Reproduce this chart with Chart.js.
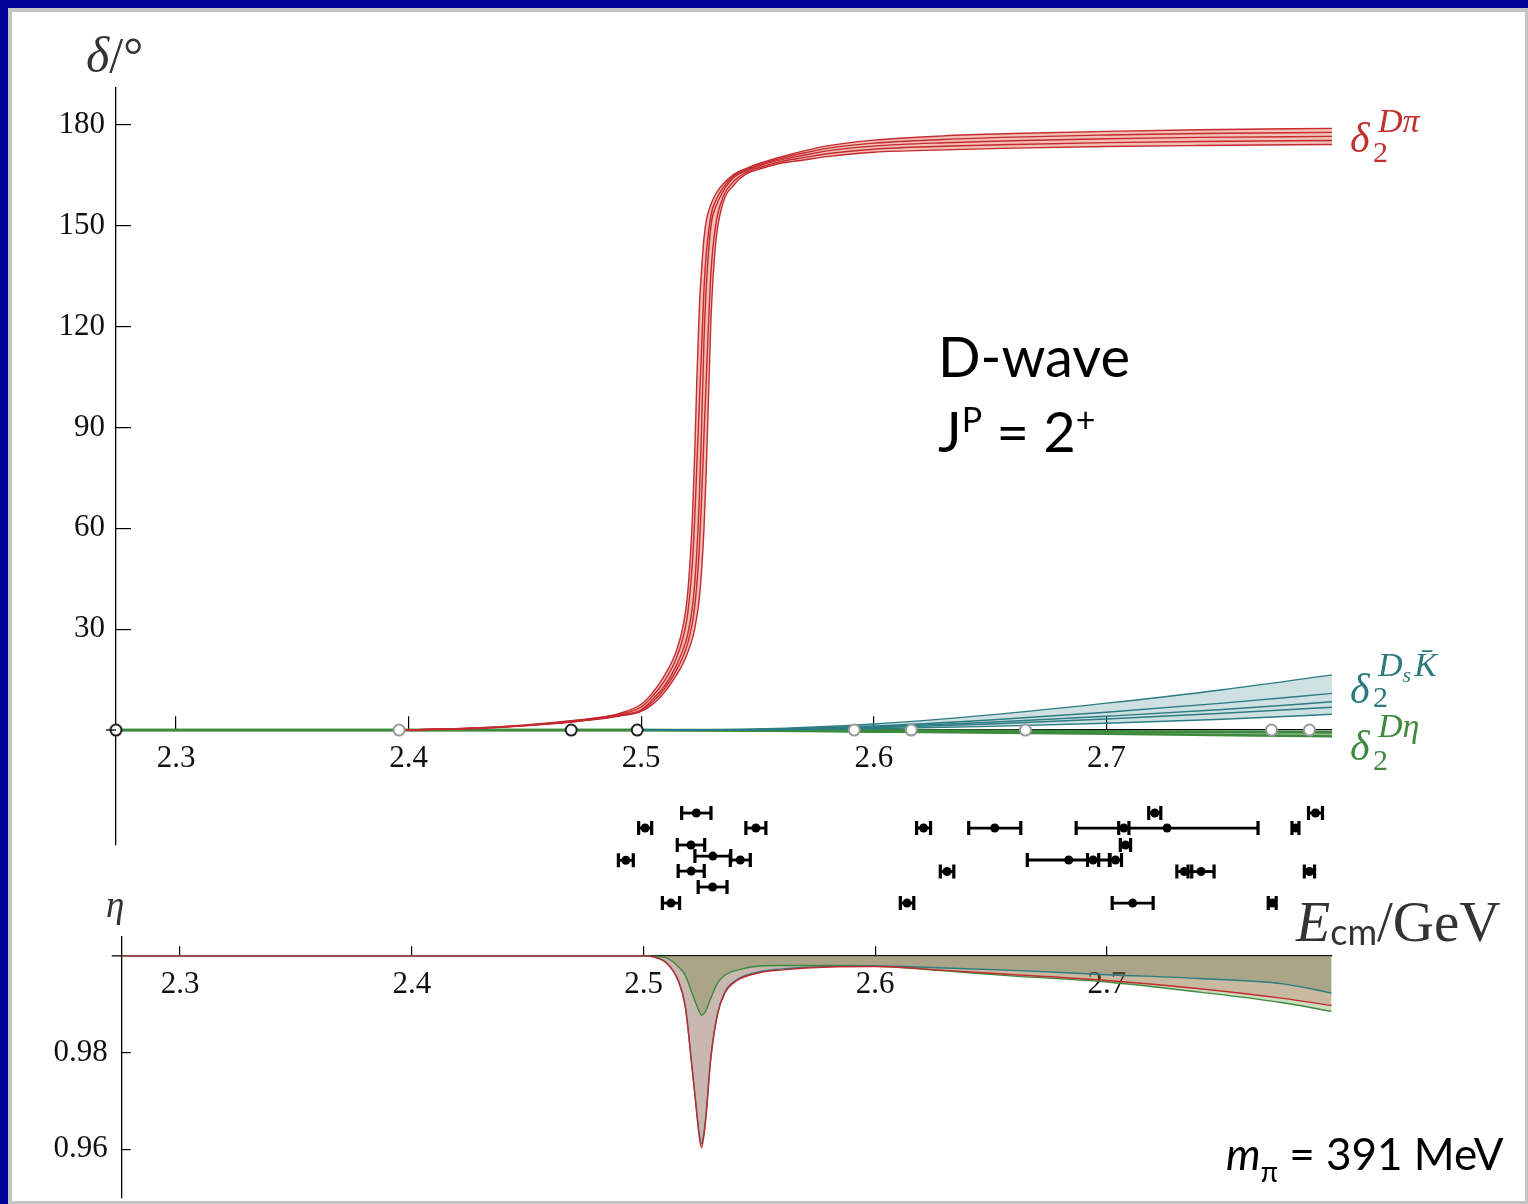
<!DOCTYPE html>
<html>
<head>
<meta charset="utf-8">
<script src="https://cdn.jsdelivr.net/npm/chart.js@4.4.1/dist/chart.umd.min.js"></script>
<style>
  html, body { margin: 0; padding: 0; }
  body { width: 1528px; height: 1204px; background: #00009a; position: relative; overflow: hidden; }
  #frame { position: absolute; left: 8px; top: 8px; width: 1520px; height: 1196px; background: #c4c4c4; }
  #paper { position: absolute; left: 12px; top: 12px; width: 1513px; height: 1189px; background: #fff; }
  canvas { position: absolute; left: 0; }
  .t { position: absolute; white-space: nowrap; line-height: 1; }
  .serif { font-family: "Liberation Serif", "DejaVu Serif", serif; }
  .sans { font-family: Lato, "Open Sans", sans-serif; }
  .it { font-style: italic; }
</style>
</head>
<body>
<div id="frame"></div>
<div id="paper"></div>
<canvas id="chart-phase" width="1528" height="930" style="top:0"></canvas>
<canvas id="chart-eta" width="1528" height="299" style="top:905px"></canvas>

<!-- axis titles -->
<div class="t serif" style="left:86px; top:30px; font-size:50px; color:#333"><span class="it">δ</span>/°</div>
<div class="t serif it" style="left:106px; top:886px; font-size:37px; color:#333">η</div>
<div class="t" style="left:1296px; top:893px; color:#333">
  <span class="serif it" style="font-size:56px">E</span><span class="sans" style="font-size:36px; position:relative; top:4px">cm</span><span class="serif" style="font-size:57px">/GeV</span>
</div>

<!-- curve labels -->
<div class="t serif it" style="left:1350px; top:117px; font-size:42px; color:#c0302c">δ</div>
<div class="t serif" style="left:1373px; top:137px; font-size:30px; color:#c0302c">2</div>
<div class="t serif it" style="left:1378px; top:104px; font-size:34px; color:#c0302c">Dπ</div>

<div class="t serif it" style="left:1350px; top:668px; font-size:42px; color:#2b7a7e">δ</div>
<div class="t serif" style="left:1373px; top:682px; font-size:30px; color:#2b7a7e">2</div>
<div class="t serif it" style="left:1378px; top:648px; font-size:34px; color:#2b7a7e">D<span style="font-size:22px; position:relative; top:6px; margin-right:3px">s</span>K̄</div>

<div class="t serif it" style="left:1350px; top:725px; font-size:42px; color:#3f8a3f">δ</div>
<div class="t serif" style="left:1373px; top:745px; font-size:30px; color:#3f8a3f">2</div>
<div class="t serif it" style="left:1378px; top:709px; font-size:34px; color:#3f8a3f">Dη</div>

<!-- annotations -->
<div class="t sans" style="left:938px; top:328px; font-size:56px; color:#000">D-wave</div>
<div class="t sans" style="left:938px; top:403px; font-size:56px; color:#000">J<span style="font-size:34px; position:relative; top:-20px">P</span> = 2<span style="font-size:34px; position:relative; top:-20px">+</span></div>
<div class="t sans" style="left:1226px; top:1131px; font-size:44px; color:#000"><span class="it">m</span><span style="font-size:28px; position:relative; top:12px">π</span> = 391 MeV</div>

<script>
// ---- tick labels ----
const energyTicks = [2.3, 2.4, 2.5, 2.6, 2.7];
const phaseTicks = [30, 60, 90, 120, 150, 180];
const etaTicks = [0.96, 0.98];

// ---- delta_2^{D pi} band (degrees) ----
const dPiE = [2.396, 2.42, 2.44, 2.46, 2.48, 2.49, 2.50, 2.505, 2.51, 2.515, 2.518, 2.520, 2.522, 2.523,
  2.524, 2.525, 2.526, 2.527, 2.528, 2.530, 2.532, 2.535, 2.540, 2.545, 2.55, 2.56, 2.57, 2.58,
  2.60, 2.63, 2.66, 2.70, 2.74, 2.797];
const dPi1 = [0, 0.42, 1.03, 2.08, 3.59, 4.82, 7.66, 11.2, 16.2, 23.3, 30.9, 40.7, 63, 82.2,
  106, 125.6, 137.4, 146.4, 151.6, 156.4, 159.4, 162.3, 165.4, 167, 168.4, 170.5, 172.3, 173.8,
  175.5, 176.75, 177.45, 178.1, 178.6, 179.0];
const dPi2 = [0, 0.385, 0.965, 1.99, 3.445, 4.61, 6.83, 10.2, 14.65, 21.15, 27.45, 34.6, 49.75, 62.85,
  80, 97.3, 114.2, 131.2, 141.8, 153.2, 157.45, 161.15, 164.95, 166.65, 168.05, 170.05, 171.65, 173.05,
  174.6, 175.7, 176.4, 177.0, 177.45, 177.8];
const dPi3 = [0, 0.35, 0.9, 1.9, 3.3, 4.4, 6, 9.2, 13.1, 19, 24, 28.5, 36.5, 43.5,
  54, 69, 91, 116, 132, 150, 155.5, 160, 164.5, 166.3, 167.7, 169.6, 171, 172.3,
  173.7, 174.7, 175.3, 175.9, 176.3, 176.6];
const dPi4 = [0, 0.32, 0.865, 1.835, 3.21, 4.255, 5.79, 8.43, 12.15, 17.6, 21.9, 25.8, 31.85, 36.8,
  44.05, 54.15, 69.35, 88, 104.9, 136.2, 150.05, 158.2, 163.4, 165.85, 167.2, 169.1, 170.3, 171.45,
  172.8, 173.65, 174.2, 174.75, 175.1, 175.4];
const dPi5 = [0, 0.29, 0.83, 1.77, 3.12, 4.11, 5.58, 7.66, 11.2, 16.2, 19.8, 23.1, 27.2, 30.1,
  34.1, 39.3, 47.7, 60, 77.8, 122.4, 144.6, 156.4, 162.3, 165.4, 166.7, 168.6, 169.6, 170.6,
  171.9, 172.6, 173.1, 173.6, 173.9, 174.2];

// ---- delta_2^{Ds Kbar} band ----
const dsKE = [2.50, 2.55, 2.60, 2.65, 2.70, 2.75, 2.797];
const dsK1 = [0, 0.3, 1.8, 4.5, 8.0, 12.0, 16.4];
const dsK2 = [0, 0.2, 1.2, 3.0, 5.3, 8.0, 10.9];
const dsK3 = [0, 0.15, 0.9, 2.3, 4.1, 6.1, 8.4];
const dsK4 = [0, 0.1, 0.7, 1.8, 3.3, 5.0, 6.8];
const dsK5 = [0, 0.05, 0.4, 1.1, 2.0, 3.2, 4.7];

// ---- delta_2^{D eta} band ----
const dEtaE = [2.2742, 2.50, 2.60, 2.70, 2.797];
const dEtaHi = [0, 0, -0.1, -0.4, -0.6];
const dEtaLo = [0, 0, -0.5, -1.1, -1.9];

// ---- threshold markers on the axis ----
const thresholdE = [2.2742, 2.3959, 2.4699, 2.4983, 2.5916, 2.6161, 2.6652, 2.7710, 2.7873];
const thresholdDark = [true, false, true, true, false, false, false, false, false];

// ---- finite-volume levels (E, error, row) ----
const levelE   = [2.5237, 2.5017, 2.5493, 2.5214, 2.5308, 2.5426, 2.4934, 2.5215, 2.5307, 2.5128,
  2.6214, 2.6520, 2.7261, 2.7075, 2.7208, 2.7082, 2.7813, 2.7899, 2.6838, 2.6943,
  2.7039, 2.6315, 2.7335, 2.7407, 2.7873, 2.6143, 2.7113, 2.7713];
const levelErr = [0.0063, 0.0028, 0.0043, 0.0059, 0.0077, 0.0043, 0.0032, 0.0056, 0.0062, 0.0037,
  0.0030, 0.0112, 0.0391, 0.0022, 0.0026, 0.0022, 0.0015, 0.0030, 0.0178, 0.0024,
  0.0026, 0.0029, 0.0032, 0.0056, 0.0022, 0.0029, 0.0088, 0.0017];
const levelRow = [0, 1, 1, 2.13, 2.87, 3.13, 3.15, 3.87, 4.93, 6,
  1, 1, 1, 1, 0, 2.13, 1, 0, 3.13, 3.13,
  3.13, 3.9, 3.9, 3.9, 3.9, 6, 6, 6];

// ---- inelasticity eta ----
const etaE = [2.2748, 2.50, 2.505, 2.51, 2.515, 2.518, 2.521, 2.523, 2.524, 2.525, 2.526, 2.527, 2.529,
  2.532, 2.535, 2.54, 2.55, 2.56, 2.58, 2.60, 2.63, 2.66, 2.70, 2.74, 2.776, 2.797];
const etaRed = [1, 1, 0.9997, 0.9985, 0.9948, 0.9895, 0.9765, 0.9672, 0.9628, 0.9603, 0.9626, 0.9668, 0.9785,
  0.9880, 0.9922, 0.9948, 0.9965, 0.9971, 0.9977, 0.9978, 0.9970, 0.9961, 0.9949, 0.9932, 0.9912, 0.9897];
const etaTeal = [1, 1, 0.9997, 0.9985, 0.9949, 0.9897, 0.9768, 0.9677, 0.9634, 0.9611, 0.9632, 0.9673, 0.9789,
  0.9882, 0.9924, 0.9950, 0.9967, 0.9973, 0.9978, 0.9979, 0.9975, 0.9970, 0.9961, 0.9953, 0.9942, 0.9923];
const etaGreen = [1, 1, 0.9999, 0.9996, 0.9978, 0.9960, 0.9922, 0.9897, 0.9885, 0.9877, 0.9880, 0.9887, 0.9912,
  0.9944, 0.9960, 0.9970, 0.9979, 0.9980, 0.9980, 0.9979, 0.9969, 0.9958, 0.9946, 0.9925, 0.9903, 0.9885];

const RED = "#c42a2f", TEAL = "#2b7c83", GREEN = "#3d8a3d";
const tickFont = { family: "Liberation Serif", size: 31 };

function pts(xs, ys) {
  return xs.map((x, i) => ({ x: x, y: ys[i] }));
}

function curve(xs, ys, color, width, extra) {
  return Object.assign({
    type: "line",
    data: pts(xs, ys),
    borderColor: color,
    borderWidth: width,
    pointRadius: 0,
    cubicInterpolationMode: "monotone",
    fill: false,
    order: 2,
  }, extra || {});
}

// levels with horizontal error bars (they sit below the plot area)
const levelBars = {
  id: "levelBars",
  afterDatasetsDraw(chart) {
    if (!chart.scales.lev) return;
    const ctx = chart.ctx, x = chart.scales.x, lev = chart.scales.lev;
    ctx.save();
    ctx.strokeStyle = "#000";
    ctx.fillStyle = "#000";
    levelE.forEach((e, i) => {
      const y = lev.getPixelForValue(levelRow[i]);
      const x0 = x.getPixelForValue(e - levelErr[i]);
      const x1 = x.getPixelForValue(e + levelErr[i]);
      ctx.lineWidth = 2.8;
      ctx.beginPath();
      ctx.moveTo(x0, y); ctx.lineTo(x1, y);
      ctx.stroke();
      ctx.lineWidth = 3.2;
      ctx.beginPath();
      ctx.moveTo(x0, y - 7); ctx.lineTo(x0, y + 7);
      ctx.moveTo(x1, y - 7); ctx.lineTo(x1, y + 7);
      ctx.stroke();
      ctx.beginPath();
      ctx.arc(x.getPixelForValue(e), y, 4.5, 0, Math.PI * 2);
      ctx.fill();
    });
    ctx.restore();
  },
};

// the horizontal axis pokes a little past the vertical one, Mathematica style
const axisStub = {
  id: "axisStub",
  afterDraw(chart, args, opts) {
    const ctx = chart.ctx, y = chart.scales.y.getPixelForValue(opts.at);
    ctx.save();
    ctx.strokeStyle = "#000";
    ctx.lineWidth = 1.3;
    ctx.beginPath();
    ctx.moveTo(chart.chartArea.left - 10, y);
    ctx.lineTo(chart.chartArea.left, y);
    ctx.stroke();
    ctx.restore();
  },
};

function xAxis(min, max, atY, tickLen, pad) {
  return {
    type: "linear",
    min: min,
    max: max,
    position: { y: atY },
    afterBuildTicks: s => { s.ticks = energyTicks.map(v => ({ value: v })); },
    ticks: { font: tickFont, color: "#111", padding: pad, maxRotation: 0, autoSkip: false,
      callback: v => v.toFixed(1) },
    grid: { drawOnChartArea: false, tickLength: tickLen, color: "#000", lineWidth: 1.2 },
    border: { color: "#000", width: 1.3 },
  };
}

function yAxis(min, max, ticks, digits, width, tickLen, pad) {
  return {
    type: "linear",
    min: min,
    max: max,
    position: "left",
    afterFit: s => { s.width = width; s.paddingTop = 0; s.paddingBottom = 0; },
    afterBuildTicks: s => { s.ticks = ticks.map(v => ({ value: v })); },
    ticks: { font: tickFont, color: "#111", padding: pad, callback: v => v.toFixed(digits) },
    grid: { drawOnChartArea: false, tickLength: tickLen, color: "#000", lineWidth: 1.2 },
    border: { color: "#000", width: 1.3 },
  };
}

function baseOptions(axisAt) {
  return {
    responsive: false,
    animation: false,
    events: [],
    plugins: {
      legend: { display: false },
      tooltip: { enabled: false },
      filler: { drawTime: "beforeDatasetsDraw" },
      axisStub: { at: axisAt },
    },
  };
}

// ---------------- phase shift panel ----------------
new Chart(document.getElementById("chart-phase").getContext("2d"), {
  type: "line",
  data: {
    datasets: [
      {
        type: "scatter",
        data: pts(thresholdE, thresholdE.map(() => 0)),
        pointRadius: 5.5,
        pointBorderWidth: 2,
        pointBackgroundColor: "#fff",
        pointBorderColor: thresholdDark.map(d => (d ? "#222" : "#9a9a9a")),
        clip: false,
        order: 0,
      },
      curve(dPiE, dPi1, RED, 1.4, { fill: 5, backgroundColor: "rgba(232,140,118,0.55)" }),
      curve(dPiE, dPi2, RED, 1.4),
      curve(dPiE, dPi3, RED, 1.4),
      curve(dPiE, dPi4, RED, 1.4),
      curve(dPiE, dPi5, RED, 1.4),
      curve(dsKE, dsK1, TEAL, 1.4, { fill: 10, backgroundColor: "rgba(60,130,135,0.25)", order: 3 }),
      curve(dsKE, dsK2, TEAL, 1.4, { order: 3 }),
      curve(dsKE, dsK3, TEAL, 1.4, { order: 3 }),
      curve(dsKE, dsK4, TEAL, 1.4, { order: 3 }),
      curve(dsKE, dsK5, TEAL, 1.4, { order: 3 }),
      curve(dEtaE, dEtaHi, GREEN, 2.8, { fill: 12, backgroundColor: "rgba(61,138,61,0.6)", order: 4 }),
      curve(dEtaE, dEtaLo, GREEN, 2.4, { order: 4 }),
    ],
  },
  options: Object.assign(baseOptions(0), {
    layout: { padding: { left: 0, right: 196, top: 88, bottom: 85 } },
    scales: {
      x: xAxis(2.2742, 2.797, 0, -14, 24),
      y: yAxis(-34.2, 191, phaseTicks, 0, 116, -15, 26),
      lev: { type: "linear", axis: "y", display: false, min: -48.33, max: 2.13, reverse: true },
    },
  }),
  plugins: [levelBars, axisStub],
});

// ---------------- inelasticity panel ----------------
new Chart(document.getElementById("chart-eta").getContext("2d"), {
  type: "line",
  data: {
    datasets: [
      curve(etaE, etaRed, RED, 1.4, { fill: { value: 1 }, backgroundColor: "rgba(192,39,45,0.2)" }),
      curve(etaE, etaTeal, TEAL, 1.4, { fill: { value: 1 }, backgroundColor: "rgba(78,139,101,0.3)" }),
      curve(etaE, etaGreen, GREEN, 1.4, { fill: { value: 1 }, backgroundColor: "rgba(78,143,34,0.3)" }),
    ],
  },
  options: Object.assign(baseOptions(1), {
    layout: { padding: { left: 0, right: 196.3, top: 32, bottom: 6 } },
    scales: {
      x: xAxis(2.2748, 2.797, 1, -10, 20),
      y: yAxis(0.9499, 1.0039, etaTicks, 2, 121.7, -9, 23),
    },
  }),
  plugins: [axisStub],
});
</script>
</body>
</html>
